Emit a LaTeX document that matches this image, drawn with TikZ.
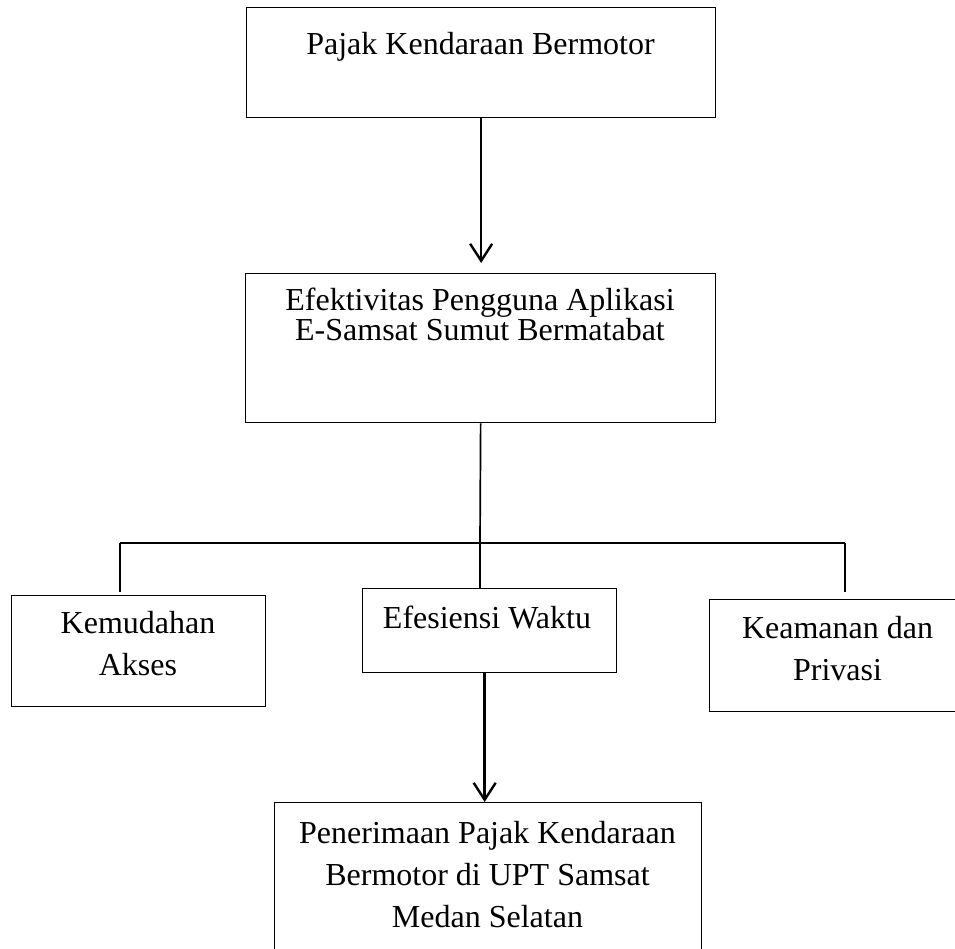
\documentclass[tikz,border=0pt]{standalone}
\usepackage{fontspec}
\setmainfont{Liberation Serif}
\usetikzlibrary{positioning,arrows.meta,calc}
\newcommand\tightlines{\lineskiplimit=-40pt\relax}
\tikzset{
box/.style={draw,line width=1.3pt,inner sep=0pt,anchor=north west},
txt/.style={anchor=base,align=center,inner sep=0pt,font=\fontsize{32}{42}\selectfont},
tighttxt/.style={txt,font=\fontsize{32}{30}\selectfont\tightlines},
line/.style={line width=1.7pt},
arrow/.style={-{Straight Barb[length=17pt,width=22pt]},line width=2.4pt}
}
\begin{document}
\begin{tikzpicture}[x=1pt,y=1pt]
\useasboundingbox (0,0) rectangle (955,-949);
\clip (0,0) rectangle (955,-949);
% boxes
\node[box,minimum width=469,minimum height=110](pkb) at (246,-7){};
\node[box,minimum width=470,minimum height=149](epa) at (245,-273){};
\node[box,minimum width=254,minimum height=111](kma) at (11,-595){};
\node[box,minimum width=254,minimum height=84](efw) at (362,-588){};
\node[box,minimum width=257,minimum height=112](kpr) at (709,-599){};
\node[box,minimum width=427,minimum height=160](pnr) at (274,-802){};
% texts (base = last line)
\node[txt](pkbt) at (480.5,-55){Pajak Kendaraan Bermotor};
\node[tighttxt](epat) at (480,-341){Efektivitas Pengguna Aplikasi\\E-Samsat Sumut Bermatabat};
\node[txt](kmat) at (138,-675){Kemudahan\\Akses};
\node[txt](efwt) at (487,-628){Efesiensi Waktu};
\node[txt](kprt) at (837.5,-680){Keamanan dan\\Privasi};
\node[txt](pnrt) at (487.5,-927){Penerimaan Pajak Kendaraan\\Bermotor di UPT Samsat\\Medan Selatan};
% connectors
\coordinate (split) at (480,-543);
\coordinate (kl) at (120,-543);
\coordinate (kr) at (845,-543);
\draw[arrow,shorten >=10pt](pkb.south)--(pkb.south |- epa.north);
\draw[line](epa.south)--(split);
\draw[line](kl)--(kr);
\draw[line,shorten >=3pt](kl)--(kl |- kma.north);
\draw[line](split)--(split |- efw.north);
\draw[line,shorten >=7pt](kr)--(kr |- kpr.north);
\draw[arrow]([xshift=-5pt]efw.south)--([xshift=-5pt]efw.south |- pnr.north);
\end{tikzpicture}
\end{document}
